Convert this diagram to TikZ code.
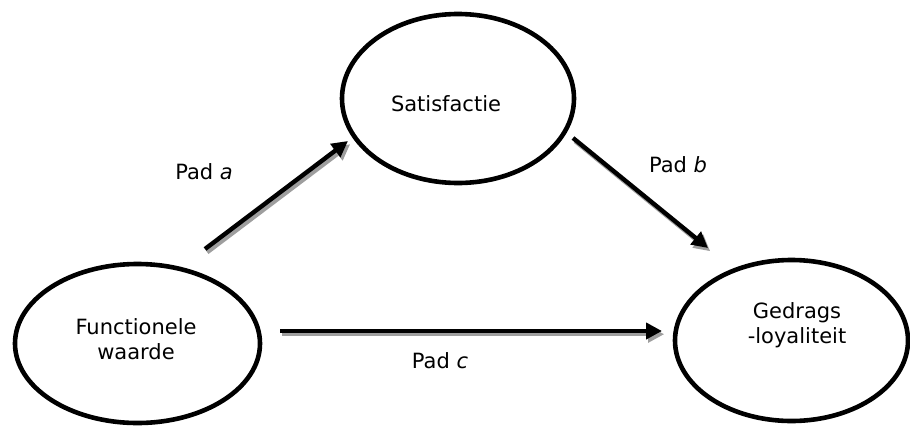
\documentclass[tikz,border=0pt]{standalone}
\usepackage{fontspec}
\setmainfont{DejaVu Sans}
\usetikzlibrary{shapes.geometric,arrows.meta}
\begin{document}
\begin{tikzpicture}[x=1pt,y=-1pt,
  every node/.style={font=\fontsize{21}{25}\selectfont},
  construct/.style={ellipse,draw,line width=4.6pt,inner sep=0pt},
  txt/.style={align=center,inner sep=0pt},
  pathline/.style={line width=4.4pt,-{Triangle[length=16pt,width=16pt]}},
  pathshadow/.style={pathline,draw=black!38,
    transform canvas={shift={(2.2pt,-3.2pt)}}}]
\useasboundingbox (0,0) rectangle (910,426);

% the three constructs
\node[construct,minimum width=232pt,minimum height=169pt] (s) at (458,98.5) {};
\node[construct,minimum width=245pt,minimum height=159pt] (f) at (137.5,343.5) {};
\node[construct,minimum width=233pt,minimum height=161pt] (g) at (791.5,340.5) {};

\node[txt] (st) at (446,104) {Satisfactie};
\node[txt] (ft) at (136,339) {Functionele\\waarde};
\node[txt] (gt) at (797,325.5) {Gedrags\\-loyaliteit};

% paths with their shadows
\draw[pathshadow] ([shift={(67.5,-94.5)}]f.center) -- ([shift={(-110,42.5)}]s.center);
\draw[pathline]   ([shift={(67.5,-94.5)}]f.center) -- ([shift={(-110,42.5)}]s.center);

\draw[pathshadow] ([shift={(115,39.5)}]s.center) -- ([shift={(-83.5,-92.5)}]g.center);
\draw[pathline]   ([shift={(115,39.5)}]s.center) -- ([shift={(-83.5,-92.5)}]g.center);

\draw[pathshadow] ([shift={(142.5,-12.5)}]f.center) -- ([shift={(-129.5,-9.5)}]g.center);
\draw[pathline]   ([shift={(142.5,-12.5)}]f.center) -- ([shift={(-129.5,-9.5)}]g.center);

% path labels
\node[txt] (la) at (204,172) {Pad \textit{a}};
\node[txt] (lb) at (678,165) {Pad \textit{b}};
\node[txt] (lc) at (440,361) {Pad \textit{c}};
\end{tikzpicture}
\end{document}
